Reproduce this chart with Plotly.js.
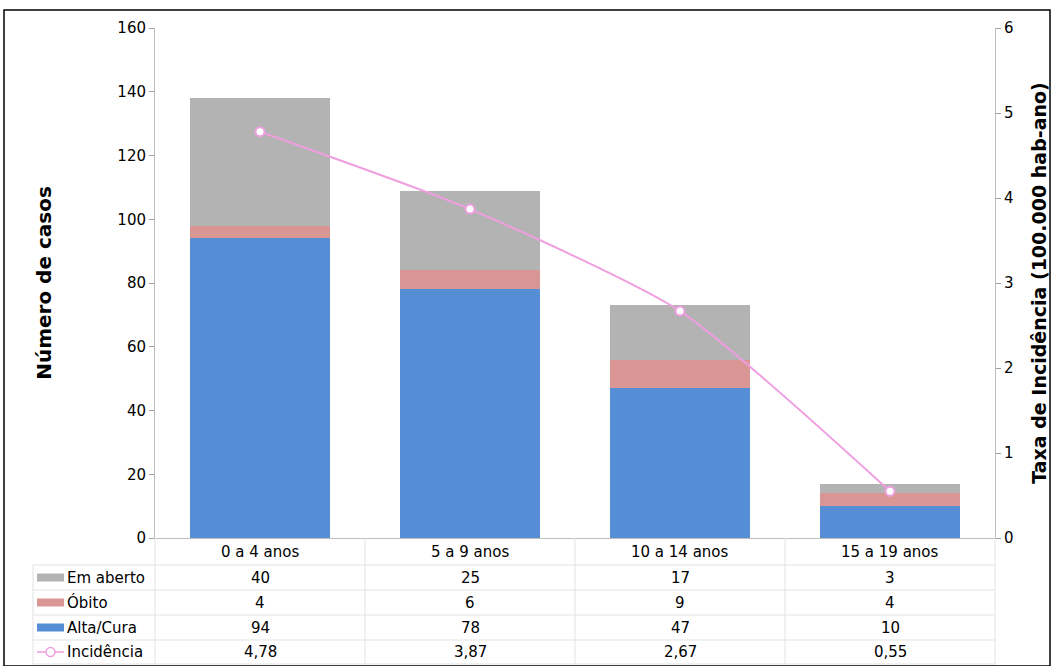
<!DOCTYPE html>
<html>
<head>
<meta charset="utf-8">
<script src="https://cdn.plot.ly/plotly-3.0.1.min.js"></script>
<style>body{margin:0;background:#fff}#chart{width:1054px;height:666px}</style>
</head>
<body>
<div id="chart"></div>
<script>
// ── Dados ─────────────────────────────────────────
const categorias = ['0 a 4 anos', '5 a 9 anos', '10 a 14 anos', '15 a 19 anos'];
const emAberto   = [40, 25, 17, 3];
const obito      = [4, 6, 9, 4];
const altaCura   = [94, 78, 47, 10];
const incidencia = [4.78, 3.87, 2.67, 0.55];

const W = 1054, H = 666;
const px = x => x / W;
const py = y => 1 - y / H;
const FONT = 'DejaVu Sans, Verdana, sans-serif';
const gridC = '#e3e3e3';

const cores = { aberto: '#b3b3b3', obito: '#d99694', alta: '#558ed5', inc: '#ef9ee0' };

const traces = [
  { type: 'bar', name: 'Alta/Cura', x: categorias, y: altaCura, marker: { color: cores.alta }, width: 0.667 },
  { type: 'bar', name: 'Óbito', x: categorias, y: obito, marker: { color: cores.obito }, width: 0.667 },
  { type: 'bar', name: 'Em aberto', x: categorias, y: emAberto, marker: { color: cores.aberto }, width: 0.667 },
  { type: 'scatter', mode: 'lines+markers', name: 'Incidência', x: categorias, y: incidencia, yaxis: 'y2',
    line: { color: cores.inc, width: 2, shape: 'spline', smoothing: 0.6 },
    marker: { size: 9, color: '#fff', line: { color: cores.inc, width: 2 } } }
];

// ── Tabela de dados ──────────────────────────────
const rowsY = [565, 590, 615, 640, 664];
const colX = [155, 365, 575, 785, 995];
const shapes = [
  { type: 'rect', xref: 'paper', yref: 'paper', x0: px(4), x1: px(1050), y0: py(666), y1: py(10),
    line: { color: '#000', width: 1.5 } }
];
rowsY.forEach(y => shapes.push({ type: 'line', xref: 'paper', yref: 'paper', x0: px(33), x1: px(995), y0: py(y), y1: py(y), line: { color: gridC, width: 1 } }));
colX.forEach(x => shapes.push({ type: 'line', xref: 'paper', yref: 'paper', x0: px(x), x1: px(x), y0: py(538), y1: py(664), line: { color: gridC, width: 1 } }));
shapes.push({ type: 'line', xref: 'paper', yref: 'paper', x0: px(33), x1: px(33), y0: py(565), y1: py(664), line: { color: gridC, width: 1 } });

const linhas = [
  { nome: 'Em aberto', vals: emAberto, cor: cores.aberto },
  { nome: 'Óbito', vals: obito, cor: cores.obito },
  { nome: 'Alta/Cura', vals: altaCura, cor: cores.alta },
  { nome: 'Incidência', vals: incidencia.map(v => v.toFixed(2).replace('.', ',')), cor: cores.inc, linha: true }
];

const txt = { family: FONT, size: 15, color: '#000' };
const annotations = [];
categorias.forEach((c, i) => annotations.push({ xref: 'paper', yref: 'paper', x: px((colX[i] + colX[i + 1]) / 2), y: py(551.5),
  xanchor: 'center', yanchor: 'middle', text: c, showarrow: false, font: txt }));
linhas.forEach((l, r) => {
  const yc = (rowsY[r] + rowsY[r + 1]) / 2;
  annotations.push({ xref: 'paper', yref: 'paper', x: px(65), y: py(yc), xanchor: 'left', yanchor: 'middle', text: l.nome, showarrow: false, font: txt });
  l.vals.forEach((v, i) => annotations.push({ xref: 'paper', yref: 'paper', x: px((colX[i] + colX[i + 1]) / 2), y: py(yc),
    xanchor: 'center', yanchor: 'middle', text: String(v), showarrow: false, font: txt }));
  if (l.linha) {
    shapes.push({ type: 'line', xref: 'paper', yref: 'paper', x0: px(37), x1: px(64), y0: py(yc), y1: py(yc), line: { color: l.cor, width: 1.5 } });
    shapes.push({ type: 'circle', xref: 'paper', yref: 'paper', x0: px(46), x1: px(55), y0: py(yc + 4.5), y1: py(yc - 4.5), fillcolor: '#fff', line: { color: l.cor, width: 1.5 } });
  } else {
    shapes.push({ type: 'rect', xref: 'paper', yref: 'paper', x0: px(37), x1: px(64), y0: py(yc + 4), y1: py(yc - 4), fillcolor: l.cor, line: { width: 0 } });
  }
});

const layout = {
  width: W, height: H,
  margin: { t: 0, b: 0, l: 0, r: 0 },
  paper_bgcolor: '#fff', plot_bgcolor: '#fff',
  barmode: 'stack', showlegend: false,
  font: { family: FONT, size: 15, color: '#000' },
  xaxis: { domain: [px(155), px(995)], anchor: 'y', showticklabels: false, ticks: '', showline: true, linecolor: '#bfbfbf', mirror: false },
  yaxis: { domain: [py(538), py(28)], range: [0, 160], dtick: 20, showgrid: false, zeroline: false,
    ticks: 'outside', ticklen: 5, tickcolor: '#a0a0a0', showline: true, linecolor: '#bfbfbf',
    title: { text: '<b>Número de casos</b>', font: { size: 20 }, standoff: 60 } },
  yaxis2: { overlaying: 'y', side: 'right', anchor: 'x', range: [0, 6], dtick: 1, showgrid: false, zeroline: false,
    ticks: 'outside', ticklen: 5, tickcolor: '#a0a0a0', showline: true, linecolor: '#bfbfbf',
    title: { text: '<b>Taxa de Incidência (100.000 hab-ano)</b>', font: { size: 19 }, standoff: 20 } },
  shapes, annotations
};

Plotly.newPlot('chart', traces, layout, { displayModeBar: false });
</script>
</body>
</html>
